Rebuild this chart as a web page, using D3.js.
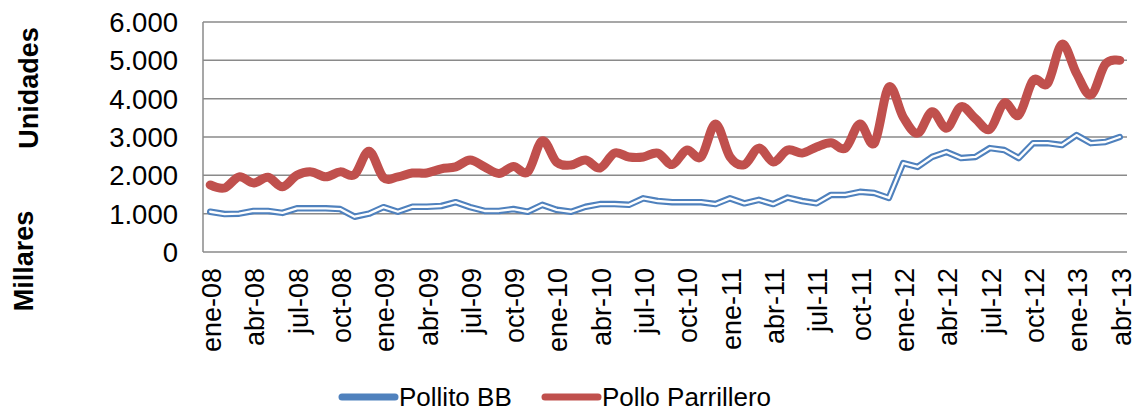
<!DOCTYPE html>
<html>
<head>
<meta charset="utf-8">
<script src="https://cdn.jsdelivr.net/npm/d3@7"></script>
<style>
  body { margin: 0; background: #fff; }
  text { font-family: "Liberation Sans", Arial, sans-serif; fill: #000; }
</style>
</head>
<body>
<div id="chart"></div>
<script>
var months = ["ene-08","feb-08","mar-08","abr-08","may-08","jun-08","jul-08","ago-08","sep-08","oct-08","nov-08","dic-08",
  "ene-09","feb-09","mar-09","abr-09","may-09","jun-09","jul-09","ago-09","sep-09","oct-09","nov-09","dic-09",
  "ene-10","feb-10","mar-10","abr-10","may-10","jun-10","jul-10","ago-10","sep-10","oct-10","nov-10","dic-10",
  "ene-11","feb-11","mar-11","abr-11","may-11","jun-11","jul-11","ago-11","sep-11","oct-11","nov-11","dic-11",
  "ene-12","feb-12","mar-12","abr-12","may-12","jun-12","jul-12","ago-12","sep-12","oct-12","nov-12","dic-12",
  "ene-13","feb-13","mar-13","abr-13"];

var pollitoBB = [1050, 990, 1000, 1070, 1070, 1020, 1140, 1140, 1140, 1120, 920, 1000,
  1170, 1050, 1180, 1180, 1200, 1300, 1170, 1070, 1070, 1120, 1050, 1230,
  1100, 1050, 1180, 1250, 1250, 1230, 1400, 1330, 1300, 1300, 1300, 1250,
  1400, 1270, 1360, 1250, 1420, 1330, 1270, 1490, 1490, 1570, 1540, 1410,
  2320, 2220, 2480, 2610, 2450, 2480, 2710, 2660, 2450, 2840, 2840, 2790,
  3050, 2840, 2870, 3000];

var polloParrillero = [1750, 1670, 1960, 1800, 1950, 1700, 2000, 2090, 1960, 2090, 2020, 2630,
  1940, 1960, 2060, 2060, 2170, 2220, 2400, 2220, 2050, 2230, 2090, 2900,
  2340, 2270, 2400, 2190, 2580, 2480, 2480, 2580, 2280, 2660, 2480, 3340,
  2480, 2280, 2710, 2350, 2660, 2580, 2740, 2850, 2710, 3340, 2840, 4300,
  3520, 3100, 3660, 3230, 3790, 3480, 3200, 3890, 3570, 4480, 4400, 5420,
  4660, 4100, 4900, 5000];

var yTicks = [0, 1000, 2000, 3000, 4000, 5000, 6000];
var seriesNames = ["Pollito BB", "Pollo Parrillero"];

var margin = { top: 22, right: 10, bottom: 159, left: 203 },
  width = 1137 - margin.left - margin.right,
  height = 411 - margin.top - margin.bottom;

var svg = d3.select("#chart").append("svg")
  .attr("width", 1137)
  .attr("height", 411);

var g = svg.append("g")
  .attr("transform", "translate(" + margin.left + "," + margin.top + ")");

var x = d3.scalePoint()
  .domain(months)
  .range([0, width])
  .padding(0.5);

var y = d3.scaleLinear()
  .domain([0, 6000])
  .range([height, 0]);

var es = d3.formatLocale({ decimal: ",", thousands: ".", grouping: [3], currency: ["", ""] });
var fmt = es.format(",.0f");

var gridColor = "#8a8a8a";

// gridlines
g.selectAll("line.grid")
  .data(yTicks)
  .enter().append("line")
  .attr("class", "grid")
  .attr("x1", 0)
  .attr("x2", width)
  .attr("y1", function(d) { return y(d); })
  .attr("y2", function(d) { return y(d); })
  .attr("stroke", gridColor)
  .attr("stroke-width", 1.5);

// y axis line
g.append("line")
  .attr("x1", 0).attr("x2", 0)
  .attr("y1", 0).attr("y2", height)
  .attr("stroke", gridColor)
  .attr("stroke-width", 1.5);

// y tick labels
g.selectAll("text.ytick")
  .data(yTicks)
  .enter().append("text")
  .attr("class", "ytick")
  .attr("x", -25)
  .attr("y", function(d) { return y(d); })
  .attr("dy", "0.36em")
  .attr("text-anchor", "end")
  .style("font-size", "27.5px")
  .text(function(d) { return fmt(d); });

// x tick labels every 3 months
g.selectAll("text.xtick")
  .data(months.filter(function(d, i) { return i % 3 === 0; }))
  .enter().append("text")
  .attr("class", "xtick")
  .attr("transform", function(d) {
    return "translate(" + (x(d) + 1) + "," + (height + 16) + ") rotate(-90)";
  })
  .attr("dy", "0.36em")
  .attr("text-anchor", "end")
  .style("font-size", "27px")
  .text(function(d) { return d; });

// axis titles
svg.append("text")
  .attr("transform", "translate(28,88) rotate(-90)")
  .attr("dy", "0.36em")
  .attr("text-anchor", "middle")
  .style("font-size", "27px")
  .style("font-weight", "bold")
  .text("Unidades");

svg.append("text")
  .attr("transform", "translate(23,261) rotate(-90)")
  .attr("dy", "0.36em")
  .attr("text-anchor", "middle")
  .style("font-size", "27px")
  .style("font-weight", "bold")
  .text("Millares");

// Pollo Parrillero - thick smoothed red
var smooth = d3.line()
  .x(function(d, i) { return x(months[i]); })
  .y(function(d) { return y(d); })
  .curve(d3.curveCardinal.tension(0));

g.append("path")
  .datum(polloParrillero)
  .attr("fill", "none")
  .attr("stroke", "#C0504D")
  .attr("stroke-width", 9)
  .attr("stroke-linejoin", "round")
  .attr("stroke-linecap", "round")
  .attr("d", smooth);

// Pollito BB - double blue line
var straight = d3.line()
  .x(function(d, i) { return x(months[i]); })
  .y(function(d) { return y(d); });

g.append("path")
  .datum(pollitoBB)
  .attr("fill", "none")
  .attr("stroke", "#4F81BD")
  .attr("stroke-width", 6.5)
  .attr("stroke-linejoin", "round")
  .attr("stroke-linecap", "round")
  .attr("d", straight);

g.append("path")
  .datum(pollitoBB)
  .attr("fill", "none")
  .attr("stroke", "#fff")
  .attr("stroke-width", 2.3)
  .attr("stroke-linejoin", "round")
  .attr("stroke-linecap", "round")
  .attr("d", straight);

// legend
var legendColors = ["#4F81BD", "#C0504D"];
var legendX = [342, 545];

var legend = svg.selectAll("g.legend")
  .data(seriesNames)
  .enter().append("g")
  .attr("class", "legend")
  .attr("transform", function(d, i) { return "translate(" + legendX[i] + ",397)"; });

legend.append("line")
  .attr("x1", 0).attr("x2", 53)
  .attr("y1", 0).attr("y2", 0)
  .attr("stroke", function(d, i) { return legendColors[i]; })
  .attr("stroke-width", 7)
  .attr("stroke-linecap", "round");

legend.append("text")
  .attr("x", 57)
  .attr("y", 0)
  .attr("dy", "0.36em")
  .style("font-size", "26px")
  .text(function(d) { return d; });
</script>
</body>
</html>
